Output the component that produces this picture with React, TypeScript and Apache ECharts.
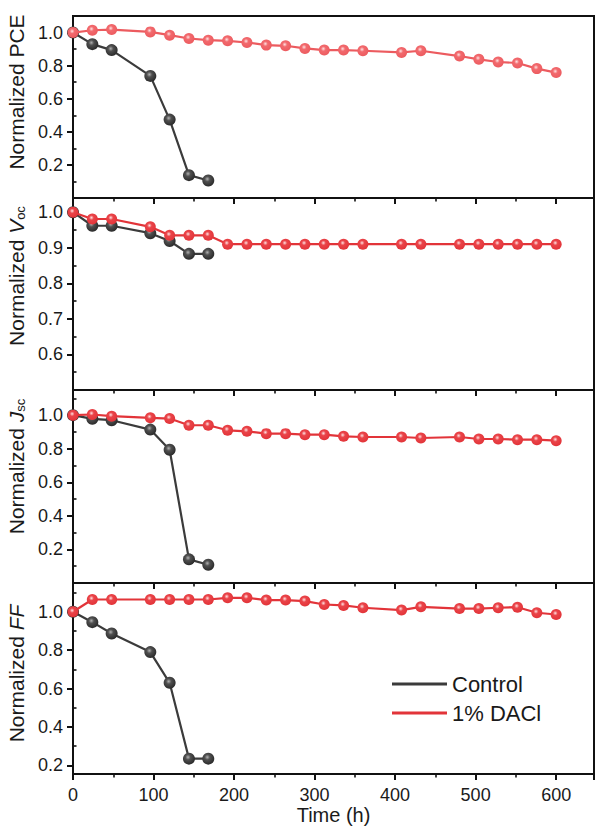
import React, { useEffect, useRef } from 'react';
import * as echarts from 'echarts';

const times = [0, 24, 48, 96, 120, 144, 168, 192, 216, 240, 264, 288, 312, 336, 360, 408, 432, 480, 504, 528, 552, 576, 600];
const controlTimes = [0, 24, 48, 96, 120, 144, 168];

const pceControl = [1.0, 0.93, 0.894, 0.738, 0.474, 0.138, 0.106];
const pceDACl = [1.0, 1.014, 1.018, 1.004, 0.984, 0.964, 0.954, 0.95, 0.94, 0.924, 0.92, 0.904, 0.894, 0.894, 0.89, 0.88, 0.89, 0.858, 0.838, 0.822, 0.816, 0.782, 0.758];
const vocControl = [1.0, 0.962, 0.962, 0.941, 0.919, 0.883, 0.883];
const vocDACl = [1.0, 0.981, 0.981, 0.959, 0.935, 0.935, 0.935, 0.91, 0.91, 0.91, 0.91, 0.91, 0.91, 0.91, 0.91, 0.91, 0.91, 0.91, 0.91, 0.91, 0.91, 0.91, 0.91];
const jscControl = [1.0, 0.978, 0.97, 0.914, 0.794, 0.141, 0.109];
const jscDACl = [1.0, 1.004, 0.994, 0.984, 0.98, 0.94, 0.94, 0.91, 0.904, 0.89, 0.89, 0.884, 0.884, 0.874, 0.87, 0.87, 0.864, 0.87, 0.858, 0.858, 0.854, 0.854, 0.848];
const ffControl = [1.0, 0.946, 0.887, 0.79, 0.63, 0.235, 0.235];
const ffDACl = [1.0, 1.064, 1.064, 1.064, 1.064, 1.064, 1.064, 1.073, 1.073, 1.061, 1.061, 1.056, 1.038, 1.033, 1.021, 1.009, 1.026, 1.017, 1.017, 1.021, 1.024, 0.995, 0.986];

const xTicks = [0, 100, 200, 300, 400, 500, 600];
const pceTicks = [0.2, 0.4, 0.6, 0.8, 1.0];
const pceMinor = [0.1, 0.3, 0.5, 0.7, 0.9];
const vocTicks = [0.6, 0.7, 0.8, 0.9, 1.0];
const vocMinor = [0.55, 0.65, 0.75, 0.85, 0.95];
const jscTicks = [0.2, 0.4, 0.6, 0.8, 1.0];
const jscMinor = [0.1, 0.3, 0.5, 0.7, 0.9, 1.1];
const ffTicks = [0.2, 0.4, 0.6, 0.8, 1.0];
const ffMinor = [0.3, 0.5, 0.7, 0.9, 1.1];

const seriesNames = ['Control', '1% DACl'];

const FONT = 'Arial, "Liberation Sans", sans-serif';
const INK = '#1a1a1a';

const panels = [
  { top: 16, height: 182, min: 0, max: 1.1, ticks: pceTicks, minor: pceMinor, control: pceControl, dacl: pceDACl,
    name: '{n|Normalized PCE}', shift: 30, red: '#ec5b5f', redMarker: '#f26a6e' },
  { top: 198, height: 192, min: 0.5, max: 1.04, ticks: vocTicks, minor: vocMinor, control: vocControl, dacl: vocDACl,
    name: '{n|Normalized }{i|V}{s|oc}', shift: 36, red: '#e23439', redMarker: '#ea4449' },
  { top: 390, height: 193, min: 0, max: 1.15, ticks: jscTicks, minor: jscMinor, control: jscControl, dacl: jscDACl,
    name: '{n|Normalized }{i|J}{s|sc}', shift: 40, red: '#e23439', redMarker: '#ea4449' },
  { top: 583, height: 191, min: 0.155, max: 1.15, ticks: ffTicks, minor: ffMinor, control: ffControl, dacl: ffDACl,
    name: '{n|Normalized }{i|FF}', shift: 10, red: '#e23439', redMarker: '#ea4449' },
];

const sphere = (base: string, dark: string, hi: string) => ({
  type: 'radial', x: 0.42, y: 0.38, r: 0.62,
  colorStops: [
    { offset: 0, color: hi },
    { offset: 0.35, color: base },
    { offset: 1, color: dark },
  ],
});

export default function App() {
  const ref = useRef<HTMLDivElement>(null);
  useEffect(() => {
    if (!ref.current) return;
    const chart = echarts.init(ref.current, null, { renderer: 'svg' });

    const grids: any[] = [];
    const xAxes: any[] = [];
    const yAxes: any[] = [];
    const series: any[] = [];

    panels.forEach((p, i) => {
      const isBottom = i === panels.length - 1;
      grids.push({
        left: 73, right: 2, top: p.top, height: p.height,
        show: true, borderColor: '#111', borderWidth: 2, backgroundColor: 'transparent',
        containLabel: false, outerBoundsMode: 'none',
      });
      xAxes.push({
        type: 'value', gridIndex: i, min: 0, max: 647, interval: 100,
        axisLine: { show: true, onZero: false, lineStyle: { color: '#111', width: 2 } },
        axisTick: { show: true, inside: false, length: 6, lineStyle: { color: '#111', width: 2 } },
        minorTick: { show: true, splitNumber: 2, length: 3.5, lineStyle: { color: '#111', width: 1.6 } },
        splitLine: { show: false },
        axisLabel: {
          show: isBottom, margin: 12, fontSize: 18, fontFamily: FONT, color: INK,
          customValues: xTicks, formatter: (v: number) => String(v),
        },
        name: isBottom ? 'Time (h)' : '',
        nameLocation: 'middle', nameGap: 27,
        nameTextStyle: { fontSize: 20, fontFamily: FONT, color: INK },
      });
      yAxes.push({
        type: 'value', gridIndex: i, min: p.min, max: p.max,
        axisLine: { show: true, onZero: false, lineStyle: { color: '#111', width: 2 } },
        axisTick: { show: true, inside: false, length: 6, customValues: p.ticks, lineStyle: { color: '#111', width: 2 } },
        splitLine: { show: false },
        axisLabel: {
          show: true, margin: 10, fontSize: 18, fontFamily: FONT, color: INK,
          customValues: p.ticks, formatter: (v: number) => v.toFixed(1),
        },
        name: p.name, nameLocation: 'middle', nameGap: 44, nameRotate: 90,
        nameTextStyle: {
          fontFamily: FONT, color: INK, padding: [0, 0, 0, p.shift],
          rich: {
            n: { fontSize: 21, fontFamily: FONT, color: INK },
            i: { fontSize: 21, fontFamily: FONT, color: INK, fontStyle: 'italic' },
            s: { fontSize: 13, fontFamily: FONT, color: INK, verticalAlign: 'bottom', padding: [8, 0, 0, 0] },
          },
        },
      });
      yAxes.push({
        type: 'value', gridIndex: i, min: p.min, max: p.max,
        axisLine: { show: false },
        axisTick: { show: true, inside: false, length: 3.5, customValues: p.minor, lineStyle: { color: '#111', width: 1.6 } },
        splitLine: { show: false },
        axisLabel: { show: false },
      });
      series.push({
        name: seriesNames[0], type: 'line', xAxisIndex: i, yAxisIndex: 2 * i,
        data: controlTimes.map((t, k) => [t, p.control[k]]),
        symbol: 'circle', symbolSize: 12, z: 2,
        lineStyle: { color: '#3b3b3b', width: 2.2 },
        itemStyle: { color: sphere('#505050', '#2a2a2a', '#b0b0b0') as any },
      });
      series.push({
        name: seriesNames[1], type: 'line', xAxisIndex: i, yAxisIndex: 2 * i,
        data: times.map((t, k) => [t, p.dacl[k]]),
        symbol: 'circle', symbolSize: 11, z: 3,
        lineStyle: { color: p.red, width: 2.2 },
        itemStyle: { color: sphere(p.redMarker, p.red, '#ffe2e2') as any },
      });
    });

    chart.setOption({
      animation: false,
      backgroundColor: '#ffffff',
      grid: grids,
      xAxis: xAxes,
      yAxis: yAxes,
      series,
      legend: {
        orient: 'vertical', left: 387, top: 668, icon: 'rect',
        itemWidth: 55, itemHeight: 3, itemGap: 7,
        textStyle: { fontSize: 22, fontFamily: FONT, color: INK },
        data: [
          { name: seriesNames[0], itemStyle: { color: '#3b3b3b' } },
          { name: seriesNames[1], itemStyle: { color: '#e23439' } },
        ],
        selectedMode: false,
      },
    });
    return () => chart.dispose();
  }, []);

  return (
    <div
      ref={ref}
      style={{ position: 'fixed', left: 0, top: 0, width: 596, height: 833, background: '#fff' }}
    />
  );
}
